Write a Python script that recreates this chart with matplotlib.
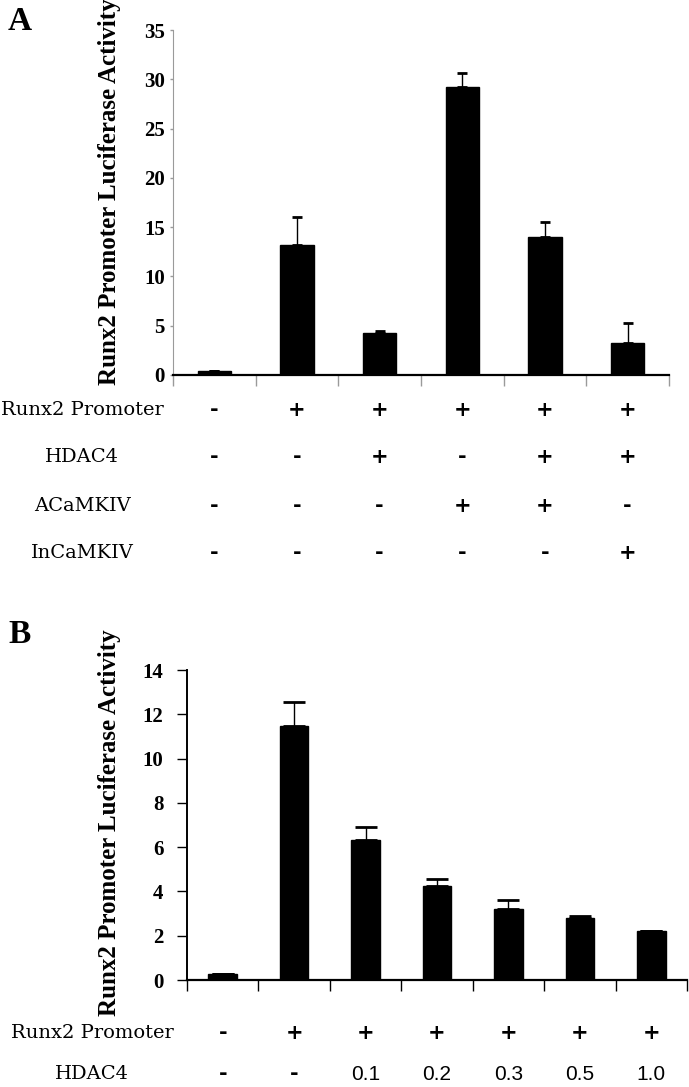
import numpy as np
import matplotlib
matplotlib.use("Agg")
import matplotlib.pyplot as plt

# ---- data ----
# panel A
a_values = [0.4, 13.2, 4.26, 29.25, 14.03, 3.2]
a_errors = [0.0, 2.87, 0.2, 1.42, 1.47, 2.04]
a_rows = ["Runx2 Promoter", "HDAC4", "ACaMKIV", "InCaMKIV"]
a_table = [
    ["-", "+", "+", "+", "+", "+"],
    ["-", "-", "+", "-", "+", "+"],
    ["-", "-", "-", "+", "+", "-"],
    ["-", "-", "-", "-", "-", "+"],
]
a_yticks = [0, 5, 10, 15, 20, 25, 30, 35]

# panel B
b_values = [0.25, 11.47, 6.32, 4.25, 3.2, 2.8, 2.2]
b_errors = [0.0, 1.09, 0.6, 0.32, 0.4, 0.1, 0.0]
b_rows = ["Runx2 Promoter", "HDAC4"]
b_table = [
    ["-", "+", "+", "+", "+", "+", "+"],
    ["-", "-", "0.1", "0.2", "0.3", "0.5", "1.0"],
]
b_yticks = [0, 2, 4, 6, 8, 10, 12, 14]

ylabel = "Runx2 Promoter Luciferase Activity"

W, H = 689, 1087
fig = plt.figure(figsize=(W / 100, H / 100), dpi=100)


def px_axes(left, right, top, bottom):
    return fig.add_axes([left / W, 1 - bottom / H, (right - left) / W, (bottom - top) / H])


def draw_panel(ax, values, errors, yticks, ycol, ytick_len, ypad, xcol, capsize):
    n = len(values)
    x = np.arange(n)
    ax.bar(x, values, width=0.4, color="black", edgecolor="black", zorder=2)
    ax.errorbar(x, values, yerr=[np.zeros(n), errors], fmt="none", ecolor="black",
                elinewidth=1, capsize=capsize, capthick=2, zorder=1)
    ax.set_xlim(-0.5, n - 0.5)
    ax.set_ylim(0, yticks[-1])
    ax.set_yticks(yticks)
    ax.set_xticks(np.arange(n + 1) - 0.5)
    ax.set_xticklabels([])
    ax.spines["top"].set_visible(False)
    ax.spines["right"].set_visible(False)
    ax.spines["left"].set_color(ycol)
    ax.spines["bottom"].set_color("black")
    ax.spines["bottom"].set_linewidth(1.6)
    ax.tick_params(axis="x", direction="out", length=8, width=1, color=xcol)
    ax.tick_params(axis="y", direction="out", length=ytick_len, width=1, color=ycol, pad=ypad)
    for lab in ax.get_yticklabels():
        lab.set_fontfamily("Liberation Serif")
        lab.set_fontweight("bold")
        lab.set_fontsize(15)
    ax.set_ylabel(ylabel, fontfamily="Liberation Serif", fontweight="bold", fontsize=18)


def draw_table(ax, rows, table, row_px, label_x, top_px, bot_px):
    tr = ax.get_xaxis_transform()
    for name, cells, ypx in zip(rows, table, row_px):
        yfrac = (bot_px - ypx) / (bot_px - top_px)
        fig.text(label_x / W, 1 - ypx / H, name, ha="center", va="center",
                 fontfamily="DejaVu Serif", fontsize=14)
        for i, c in enumerate(cells):
            if c in "+-":
                ax.text(i, yfrac, c, transform=tr, ha="center", va="center",
                        fontfamily="DejaVu Sans", fontweight="bold", fontsize=15,
                        clip_on=False)
            else:
                ax.text(i, yfrac, c, transform=tr, ha="center", va="center",
                        fontfamily="Liberation Sans", fontsize=15, clip_on=False)


# panel A
axA = px_axes(173, 669, 30, 375)
draw_panel(axA, a_values, a_errors, a_yticks, "#9a9a9a", 2, 4, "#9a9a9a", 3.5)
axA.yaxis.set_label_coords(-0.105, 0.53)
draw_table(axA, a_rows, a_table, [410, 457, 506, 553], 82, 30, 375)
fig.text(8 / W, 1 - 30 / H, "A", fontfamily="Liberation Serif", fontweight="bold",
         fontsize=24, ha="left", va="baseline")

# panel B
axB = px_axes(187, 687, 670, 980)
draw_panel(axB, b_values, b_errors, b_yticks, "black", 7, 10, "black", 8)
axB.spines["left"].set_linewidth(1.4)
axB.yaxis.set_label_coords(-0.132, 0.506)
draw_table(axB, b_rows, b_table, [1033, 1074], 92, 670, 980)
fig.text(8 / W, 1 - 643 / H, "B", fontfamily="Liberation Serif", fontweight="bold",
         fontsize=24, ha="left", va="baseline")

fig.savefig("out.png", dpi=100)
